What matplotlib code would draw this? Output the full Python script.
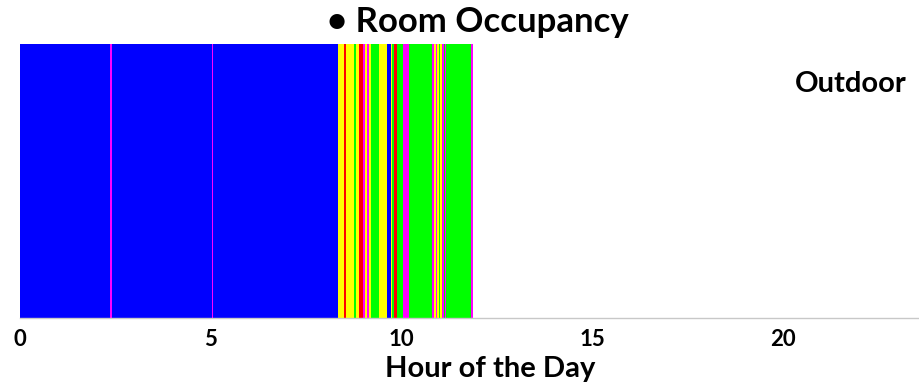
import matplotlib.pyplot as plt

# State change times (hours) and the state that starts at each time
change_hours = [0.00, 2.35, 2.40, 5.02, 5.07, 8.34, 8.49, 8.55, 8.76, 8.81,
                8.89, 8.99, 9.04, 9.10, 9.15, 9.20, 9.41, 9.62, 9.72, 9.75,
                9.80, 9.88, 10.04, 10.20, 10.80, 10.85, 10.91, 10.94, 10.99,
                11.01, 11.07, 11.12, 11.14, 11.17, 11.82]
states = ["blue", "magenta", "blue", "magenta", "blue", "yellow", "red",
          "yellow", "green", "yellow", "red", "magenta", "yellow", "magenta",
          "yellow", "green", "yellow", "blue", "yellow", "green", "red",
          "green", "magenta", "green", "magenta", "yellow", "magenta",
          "yellow", "green", "yellow", "magenta", "green", "magenta",
          "green", "magenta"]
end_hour = 11.87

state_colors = {"blue": "#0000ff", "magenta": "#ff00ff", "yellow": "#ffff00",
                "red": "#ff0000", "green": "#00ff00"}

x_ticks = [0, 5, 10, 15, 20]

plt.rcParams['font.family'] = ['Lato', 'DejaVu Sans']

fig = plt.figure(figsize=(9.2, 3.84), dpi=100)
ax = fig.add_axes([20 / 920, 1 - 318 / 384, 1 - 20 / 920, (318 - 44) / 384])

# Each segment runs until the next state change
ends = change_hours[1:] + [end_hour]
for start, stop, state in zip(change_hours, ends, states):
    ax.axvspan(start, stop, ymin=0, ymax=1, color=state_colors[state], lw=0)

ax.set_xlim(0, 23.59)
ax.set_ylim(0, 1)
ax.set_yticks([])
ax.set_xticks(x_ticks)
ax.set_xticklabels([str(t) for t in x_ticks], fontsize=16, fontweight='bold')
ax.tick_params(axis='x', length=0, pad=8)
for side in ['left', 'right', 'top']:
    ax.spines[side].set_visible(False)
ax.spines['bottom'].set_color('#c8c8c8')
ax.spines['bottom'].set_linewidth(1)

ax.set_xlabel('Hour of the Day', fontsize=21, fontweight='bold')
ax.xaxis.set_label_coords(0.522, -0.14)
ax.xaxis.label.set_va('top')
ax.text(0.985, 0.855, 'Outdoor', transform=ax.transAxes, ha='right',
        va='center', fontsize=21, fontweight='bold')

fig.text(478 / 920, 1 - 22 / 384, '\u2022 Room Occupancy', ha='center',
         va='center', fontsize=25, fontweight='bold')

fig.savefig('out.png', dpi=100)
